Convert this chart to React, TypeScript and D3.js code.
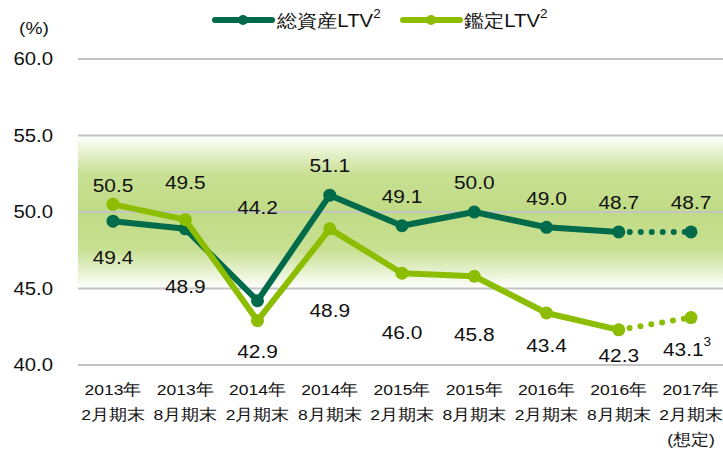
import React from "react";
import * as d3 from "d3";

const categories = [
  ["2013年", "2月期末"],
  ["2013年", "8月期末"],
  ["2014年", "2月期末"],
  ["2014年", "8月期末"],
  ["2015年", "2月期末"],
  ["2015年", "8月期末"],
  ["2016年", "2月期末"],
  ["2016年", "8月期末"],
  ["2017年", "2月期末"],
];
const totalLTV = [49.4, 48.9, 44.2, 51.1, 49.1, 50.0, 49.0, 48.7, 48.7];
const appraisalLTV = [50.5, 49.5, 42.9, 48.9, 46.0, 45.8, 43.4, 42.3, 43.1];
const yTicks = [40, 45, 50, 55, 60];
const totalLabelDy = [36, 58, -93, -30, -29, -30, -29, -29, -29];
const appraisalLabelDy = [-19, -37, 31, 82, 59, 58, 32, 26, 32];

const DARK = "#006b4a";
const LIGHT = "#8cbd00";
const FONT = "'Liberation Sans', Arial, sans-serif";
const SX = 1.13;

function T({ x, y, size, anchor = "middle", children }: any) {
  return (
    <text
      transform={`translate(${x},${y}) scale(${SX},1)`}
      textAnchor={anchor}
      dominantBaseline="central"
      fontSize={size}
      fill="#111"
    >
      {children}
    </text>
  );
}

export default function App() {
  const W = 723, H = 449;
  const x = d3.scalePoint<number>().domain(d3.range(categories.length)).range([113, 691]);
  const y = d3.scaleLinear().domain([40, 60]).range([365, 59]);
  const gx0 = 78, gx1 = 723;
  const line = d3.line<number>().x((_, i) => x(i)!).y((d) => y(d));
  const n = categories.length;

  const series = [
    { vals: totalLTV, color: DARK, dy: totalLabelDy },
    { vals: appraisalLTV, color: LIGHT, dy: appraisalLabelDy },
  ];

  return (
    <svg width={W} height={H} style={{ position: "absolute", left: 0, top: 0, fontFamily: FONT }}>
      <defs>
        <linearGradient id="band" x1="0" y1="0" x2="0" y2="1">
          <stop offset="0" stopColor="#ffffff" />
          <stop offset="0.25" stopColor="#c8e093" />
          <stop offset="0.5" stopColor="#c0db85" />
          <stop offset="0.75" stopColor="#c8e093" />
          <stop offset="1" stopColor="#ffffff" />
        </linearGradient>
      </defs>
      <rect x={gx0} y={y(55)} width={gx1 - gx0} height={y(45) - y(55)} fill="url(#band)" />
      {yTicks.map((t) => (
        <g key={t}>
          <line x1={gx0} x2={gx1} y1={y(t)} y2={y(t)} stroke="#c4c4c4" strokeWidth={2} />
          <T x={53} y={y(t)} size={18} anchor="end">{t.toFixed(1)}</T>
        </g>
      ))}
      <T x={34} y={28} size={17}>(%)</T>

      {series.map((s, si) => (
        <g key={si}>
          <path d={line(s.vals.slice(0, n - 1))!} fill="none" stroke={s.color} strokeWidth={6} strokeLinejoin="round" />
          <line
            x1={x(n - 2)} y1={y(s.vals[n - 2])} x2={x(n - 1)} y2={y(s.vals[n - 1])}
            stroke={s.color} strokeWidth={6} strokeLinecap="round" strokeDasharray="0 11"
          />
          {s.vals.map((v, i) => (
            <circle key={i} cx={x(i)} cy={y(v)} r={6.5} fill={s.color} />
          ))}
        </g>
      ))}

      {series.map((s, si) =>
        s.vals.map((v, i) => (
          <T key={`${si}-${i}`} x={x(i)! + (si === 1 && i === n - 1 ? -4 : 0)} y={y(v) + s.dy[i]} size={18.5}>
            {v.toFixed(1)}
            {si === 1 && i === n - 1 ? <tspan dy={-8} fontSize={12}>3</tspan> : null}
          </T>
        ))
      )}

      {categories.map((c, i) => (
        <g key={i}>
          <T x={x(i)} y={390} size={15.5}>{c[0]}</T>
          <T x={x(i)} y={415} size={15.5}>{c[1]}</T>
        </g>
      ))}
      <T x={x(n - 1)} y={440} size={15.5}>(想定)</T>

      {/* legend */}
      <line x1={215} x2={272} y1={20} y2={20} stroke={DARK} strokeWidth={6} strokeLinecap="round" />
      <circle cx={243} cy={20} r={5} fill={DARK} />
      <T x={277} y={21} size={18} anchor="start">
        総資産LTV<tspan dy={-8} fontSize={12}>2</tspan>
      </T>
      <line x1={403} x2={460} y1={20} y2={20} stroke={LIGHT} strokeWidth={6} strokeLinecap="round" />
      <circle cx={431} cy={20} r={5} fill={LIGHT} />
      <T x={464} y={21} size={18} anchor="start">
        鑑定LTV<tspan dy={-8} fontSize={12}>2</tspan>
      </T>
    </svg>
  );
}
